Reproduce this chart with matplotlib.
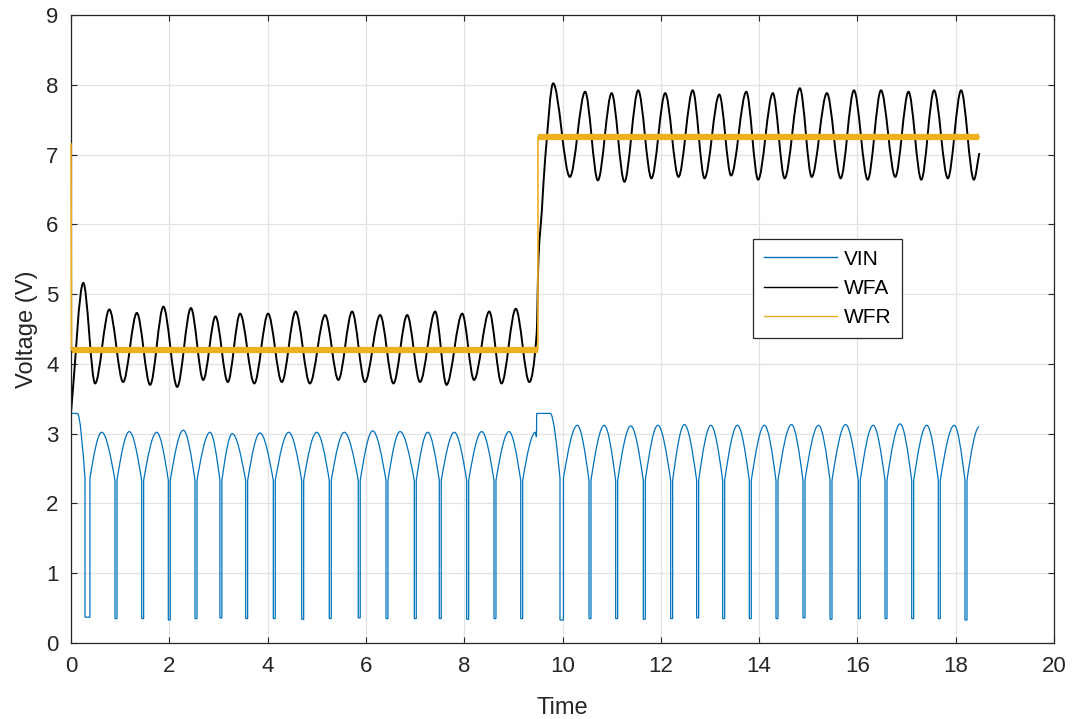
import matplotlib
matplotlib.use("Agg")
import matplotlib.pyplot as plt
from matplotlib.path import Path
from matplotlib.patches import PathPatch
from matplotlib.lines import Line2D

plt.rcParams['font.family'] = ['Liberation Sans', 'DejaVu Sans']

# ---------------- data ----------------
series_names = ["VIN", "WFA", "WFR"]
x_ticks = [0, 2, 4, 6, 8, 10, 12, 14, 16, 18, 20]
y_ticks = [0, 1, 2, 3, 4, 5, 6, 7, 8, 9]

# WFR : reference level (steps)
wfr_t = [0.0, 0.01, 9.50, 9.50, 18.48]
wfr_v = [7.15, 4.20, 4.20, 7.25, 7.25]

# WFA : successive extrema / read points
wfa_t = [0.00, 0.25, 0.49, 0.78, 1.06, 1.34, 1.61, 1.88, 2.16, 2.44, 2.69,
         2.94, 3.19, 3.44, 3.73, 4.01, 4.29, 4.57, 4.86, 5.17, 5.44, 5.72,
         5.98, 6.29, 6.56, 6.84, 7.10, 7.41, 7.64, 7.96, 8.20, 8.51, 8.76,
         9.05, 9.325, 9.475, 9.51, 9.58, 9.645, 9.81, 10.15, 10.46, 10.72,
         11.00, 11.26, 11.54, 11.81, 12.09, 12.36, 12.65, 12.89, 13.19,
         13.43, 13.74, 13.98, 14.28, 14.52, 14.83, 15.07, 15.38, 15.66,
         15.93, 16.21, 16.48, 16.77, 17.04, 17.30, 17.56, 17.84, 18.11,
         18.37, 18.48]
wfa_v = [3.30, 5.16, 3.72, 4.78, 3.74, 4.73, 3.70, 4.82, 3.67, 4.80, 3.77,
         4.68, 3.74, 4.72, 3.72, 4.72, 3.74, 4.75, 3.72, 4.70, 3.77, 4.75,
         3.74, 4.70, 3.72, 4.70, 3.74, 4.75, 3.70, 4.72, 3.77, 4.75, 3.72,
         4.79, 3.74, 4.44, 5.49, 6.20, 6.92, 8.02, 6.68, 7.90, 6.63,
         7.88, 6.61, 7.92, 6.66, 7.88, 6.68, 7.92, 6.66, 7.86,
         6.70, 7.90, 6.64, 7.88, 6.66, 7.95, 6.68, 7.88, 6.66,
         7.92, 6.64, 7.92, 6.68, 7.90, 6.64, 7.92, 6.66, 7.92,
         6.64, 7.02]

# VIN : dips (start time, width, bottom), valley level before dips, peaks
vin_dip_t = [0.285, 0.895, 1.438, 1.980, 2.523, 3.03, 3.554, 4.116, 4.694,
             5.255, 5.845, 6.409, 6.985, 7.493, 8.051, 8.606, 9.150,
             9.949, 10.539, 11.082, 11.644, 12.201, 12.730, 13.259, 13.801,
             14.344, 14.893, 15.443, 16.018, 16.562, 17.105, 17.646, 18.189]
vin_dip_w = [0.10] + [0.04] * 16 + [0.07] + [0.04] * 15
vin_dip_bottom = [0.37, 0.35, 0.35, 0.33, 0.35, 0.36, 0.35, 0.35, 0.34,
                  0.35, 0.36, 0.35, 0.35, 0.35, 0.34, 0.35, 0.35,
                  0.33, 0.35, 0.35, 0.34, 0.35, 0.36, 0.35, 0.35,
                  0.35, 0.36, 0.34, 0.35, 0.35, 0.35, 0.35, 0.33]
vin_valley_v = [2.36] + [2.33] * 16 + [2.36] + [2.33] * 15
vin_peak_t = [0.625, 1.186, 1.744, 2.285, 2.828, 3.28, 3.845, 4.429, 4.999,
              5.56, 6.138, 6.694, 7.257, 7.799, 8.356, 8.911,
              10.30, 10.85, 11.39, 11.94, 12.48, 13.02, 13.56, 14.11, 14.66,
              15.21, 15.76, 16.32, 16.87, 17.41, 17.97]
vin_peak_v = [3.02, 3.03, 3.02, 3.05, 3.02, 3.00, 3.01, 3.02, 3.02, 3.02,
              3.04, 3.03, 3.02, 3.02, 3.03, 3.03,
              3.12, 3.12, 3.11, 3.12, 3.13, 3.12, 3.12, 3.12, 3.13,
              3.12, 3.13, 3.12, 3.14, 3.12, 3.12]
vin_start_t = [0.00, 0.13]          # initial plateau
vin_start_v = [3.29, 3.29]
vin_step_t = [9.45, 9.47, 9.475, 9.75]   # around the step
vin_step_v = [3.02, 2.95, 3.29, 3.29]
vin_end = (18.48, 3.10)

colors = {"VIN": "#0072BD", "WFA": "#000000", "WFR": "#EDB120"}


# ---------------- helpers: smooth rendering between read points ----------------
def hermite_path(ts, vs):
    """Cubic curve through read points; horizontal tangents at extrema."""
    n = len(ts)
    m = []
    for i in range(n):
        if i == 0:
            s = (vs[1] - vs[0]) / (ts[1] - ts[0])
        elif i == n - 1:
            s = (vs[-1] - vs[-2]) / (ts[-1] - ts[-2])
        else:
            a = vs[i] - vs[i - 1]
            b = vs[i + 1] - vs[i]
            s = 0.0 if a * b <= 0 else (vs[i + 1] - vs[i - 1]) / (ts[i + 1] - ts[i - 1])
        m.append(s)
    verts = [(ts[0], vs[0])]
    codes = [Path.MOVETO]
    for i in range(n - 1):
        h = ts[i + 1] - ts[i]
        verts += [(ts[i] + h / 3, vs[i] + m[i] * h / 3),
                  (ts[i + 1] - h / 3, vs[i + 1] - m[i + 1] * h / 3),
                  (ts[i + 1], vs[i + 1])]
        codes += [Path.CURVE4] * 3
    return Path(verts, codes)


class PathBuilder:
    def __init__(self, t, v):
        self.verts = [(t, v)]
        self.codes = [Path.MOVETO]

    @property
    def last(self):
        return self.verts[-1]

    def line(self, t, v):
        self.verts.append((t, v))
        self.codes.append(Path.LINETO)

    def curve(self, t, v, round_start, round_end):
        t0, v0 = self.last
        h = t - t0
        chord = (v - v0) / h
        m0 = 0.0 if round_start else 1.57 * chord
        m1 = 0.0 if round_end else 1.57 * chord
        self.verts += [(t0 + h / 3, v0 + m0 * h / 3),
                       (t - h / 3, v - m1 * h / 3), (t, v)]
        self.codes += [Path.CURVE4] * 3

    def path(self):
        return Path(self.verts, self.codes)


def vin_path():
    pb = PathBuilder(vin_start_t[0], vin_start_v[0])
    pb.line(vin_start_t[1], vin_start_v[1])
    peak_i = 0
    n1 = 17
    for k in range(len(vin_dip_t)):
        d, w, b, val = vin_dip_t[k], vin_dip_w[k], vin_dip_bottom[k], vin_valley_v[k]
        if k == n1:  # step region before first dip of segment 2
            pb.curve(vin_step_t[0], vin_step_v[0], False, True)
            pb.line(vin_step_t[1], vin_step_v[1])
            pb.line(vin_step_t[2], vin_step_v[2])
            pb.line(vin_step_t[3], vin_step_v[3])
        pb.curve(d, val, True, False)
        # the dip
        pb.line(d, b)
        pb.line(d + w, b)
        pb.line(d + w, val)
        # rise to next peak if any before next dip
        if k + 1 < len(vin_dip_t) and k + 1 != n1:
            pb.curve(vin_peak_t[peak_i], vin_peak_v[peak_i], False, True)
            peak_i += 1
    pb.curve(vin_end[0], vin_end[1], False, True)
    return pb.path()


# ---------------- figure ----------------
fig = plt.figure(figsize=(10.75, 7.19), dpi=100)
ax = fig.add_axes([71 / 1075, 1 - 643 / 719, (1054 - 71) / 1075, (643 - 15) / 719])

ax.add_patch(PathPatch(vin_path(), facecolor='none', edgecolor=colors["VIN"],
                       lw=0.9, joinstyle='miter'))
ax.add_patch(PathPatch(hermite_path(wfa_t, wfa_v), facecolor='none',
                       edgecolor=colors["WFA"], lw=1.4))
# WFR: thin trace incl. the steps, noisy levels shown as a band
ax.plot(wfr_t, wfr_v, color=colors["WFR"], lw=1.2, zorder=3, clip_on=False)
ax.plot(wfr_t[1:3], wfr_v[1:3], color=colors["WFR"], lw=4.5, solid_capstyle='butt')
ax.plot(wfr_t[3:5], wfr_v[3:5], color=colors["WFR"], lw=4.5, solid_capstyle='butt')

ax.set_xlim(0, 20)
ax.set_ylim(0, 9)
ax.set_xticks(x_ticks)
ax.set_yticks(y_ticks)
ax.grid(True, color='#e2e2e2', lw=0.9)
ax.set_axisbelow(True)
for s in ax.spines.values():
    s.set_color('#262626')
    s.set_linewidth(0.9)
ax.tick_params(direction='in', length=4, width=0.8, colors='#262626',
               labelsize=16, top=True, right=True, pad=9)
ax.set_xlabel("Time", fontsize=17, color='#262626', labelpad=15)
ax.set_ylabel("Voltage (V)", fontsize=17, color='#262626', labelpad=6)

handles = [Line2D([], [], color=colors[n], lw=1.0) for n in series_names]
leg = ax.legend(handles, series_names, loc='upper left',
                bbox_to_anchor=(0.694, 0.643), fontsize=15, frameon=True,
                fancybox=False, edgecolor='#262626', framealpha=1,
                handlelength=3.5, handletextpad=0.35, borderpad=0.5,
                labelspacing=0.5, borderaxespad=0)
leg.get_frame().set_linewidth(0.9)
leg.set_zorder(5)

fig.savefig("out.png", dpi=100)
